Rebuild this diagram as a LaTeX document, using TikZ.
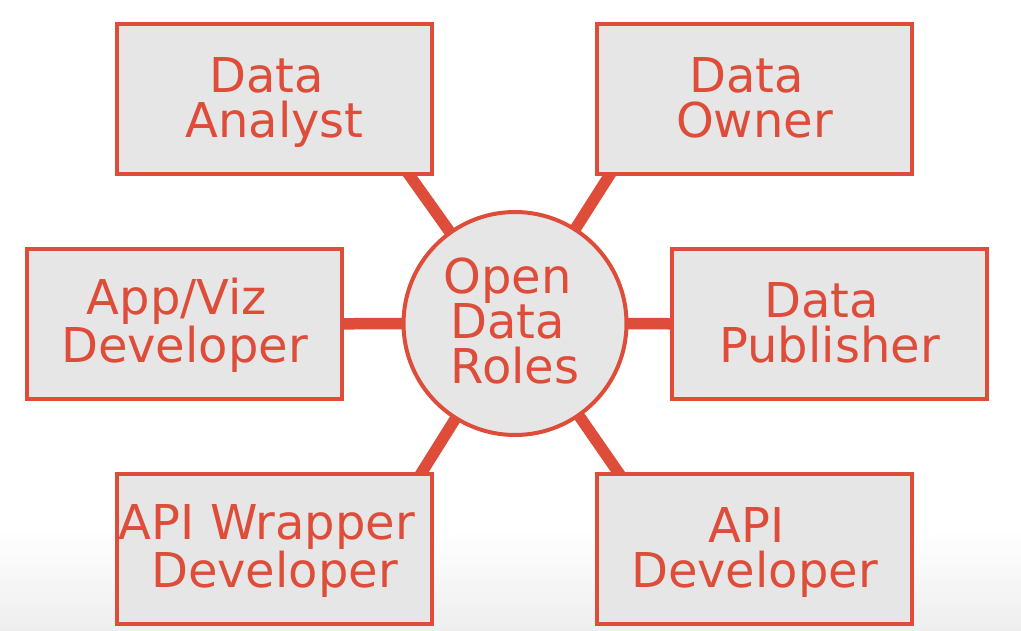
\documentclass[tikz,border=0pt]{standalone}
\usepackage{fontspec}
\setmainfont{DejaVu Sans}
\usetikzlibrary{calc}
\definecolor{odr}{RGB}{222,77,58}
\definecolor{boxfill}{RGB}{230,230,230}
\definecolor{bgbot}{RGB}{238,238,238}
\newcommand\trs{\makebox[0.318em]{}}
\pgfdeclarelayer{bglayer}
\pgfdeclarelayer{linelayer}
\pgfsetlayers{bglayer,linelayer,main}
\begin{document}
\begin{tikzpicture}[x=1pt,y=-1pt,
  rolebox/.style={draw=odr, line width=4pt, fill=boxfill, minimum width=315pt,
    minimum height=150pt, inner sep=0pt, align=center, text=odr,
    font=\fontsize{48}{45}\selectfont, text height=80pt, text depth=4pt},
  hub/.style={circle, draw=odr, line width=4pt, fill=boxfill, minimum size=223pt,
    inner sep=0pt, align=center, text=odr,
    font=\fontsize{48}{45}\selectfont, text height=123pt, text depth=4pt},
  link/.style={draw=odr, line width=11.5pt}]
\useasboundingbox (0,0) rectangle (1021,630);
\begin{pgfonlayer}{bglayer}
  \fill[white] (0,0) rectangle (1021,530);
  \shade[top color=white, bottom color=bgbot] (0,530) rectangle (1021,630);
\end{pgfonlayer}
\node[hub] (c) at (515,323.5) {Open\trs\\Data\trs\\Roles};
\node[rolebox] (da) at (274.5,99) {Data\trs\\Analyst};
\node[rolebox] (do) at (754.5,99) {Data\trs\\Owner};
\node[rolebox] (av) at (184.5,324) {App/Viz\trs\\Developer};
\node[rolebox] (dp) at (829.5,324) {Data\trs\\Publisher};
\node[rolebox] (aw) at (274.5,549) {API Wrapper\trs\\Developer};
\node[rolebox] (ad) at (754.5,549) {API\trs\\Developer};
\begin{pgfonlayer}{linelayer}
  \draw[link] (c.center) -- ($(c.center)!1.1!([xshift=135.5pt]da.south)$);
  \draw[link] (c.center) -- ($(c.center)!1.1!([xshift=-145.5pt]do.south)$);
  \draw[link] (c.center) -- ($(c.center)!1.1!([xshift=147.5pt]aw.north)$);
  \draw[link] (c.center) -- ($(c.center)!1.1!([xshift=-136.5pt]ad.north)$);
  \draw[link] (c.center) -- (av.center);
  \draw[link] (c.center) -- (dp.center);
\end{pgfonlayer}
\end{tikzpicture}
\end{document}
